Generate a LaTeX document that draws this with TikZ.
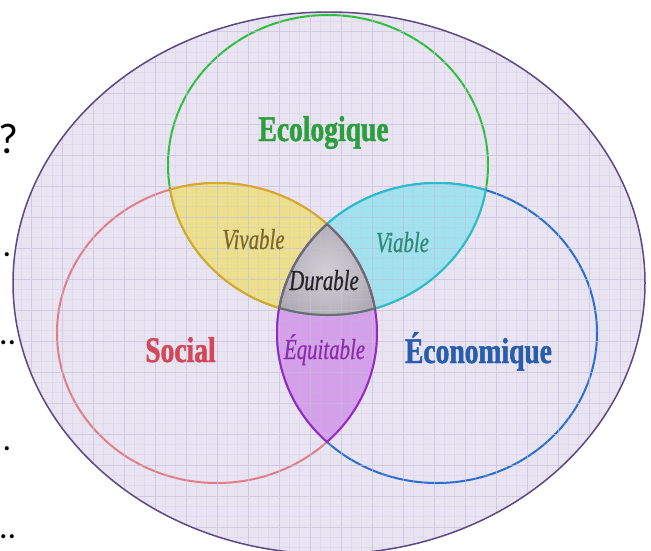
\documentclass[tikz,border=0pt]{standalone}
\usepackage{fontspec}
\newfontfamily\condfont{Liberation Serif}[FakeStretch=0.765, BoldFeatures={FakeBold=1.3}]
\newfontfamily\conditfont{Liberation Serif}[FakeStretch=0.72, ItalicFeatures={FakeBold=0.6}]
\newfontfamily\slidefont{Carlito}
\definecolor{bglav}{RGB}{233,228,241}
\definecolor{gridc}{RGB}{200,190,222}
\definecolor{outc}{RGB}{92,72,130}
\definecolor{greenc}{RGB}{45,190,60}
\definecolor{redc}{RGB}{226,125,135}
\definecolor{bluec}{RGB}{40,110,205}
\definecolor{yelf}{RGB}{236,224,140}
\definecolor{yelb}{RGB}{216,168,40}
\definecolor{cyaf}{RGB}{160,226,238}
\definecolor{cyab}{RGB}{40,188,205}
\definecolor{purf}{RGB}{212,160,234}
\definecolor{purb}{RGB}{150,40,200}
\definecolor{gryin}{RGB}{210,208,213}
\definecolor{gryout}{RGB}{168,166,173}
\definecolor{gryb}{RGB}{110,108,115}
\definecolor{ecotxt}{RGB}{44,158,62}
\definecolor{soctxt}{RGB}{210,72,88}
\definecolor{ecntxt}{RGB}{40,92,172}
\definecolor{vivtxt}{RGB}{120,104,45}
\definecolor{viatxt}{RGB}{45,138,118}
\definecolor{durtxt}{RGB}{35,35,40}
\definecolor{equtxt}{RGB}{138,46,168}
\def\OUTP{(329,283) ellipse [x radius=316pt, y radius=271pt]}
\def\GCP{(328,165) ellipse [x radius=160pt, y radius=150pt]}
\def\RCP{(217,333) ellipse [x radius=160pt, y radius=150pt]}
\def\BCP{(437,333) ellipse [x radius=160pt, y radius=150pt]}
\begin{document}
\begin{tikzpicture}[x=1pt,y=-1pt,
  circ/.style={line width=2pt},
  lens/.style={line width=2pt},
  bigtxt/.style={inner sep=0pt, anchor=base, font=\condfont\bfseries\fontsize{36}{40}\selectfont},
  ittxt/.style={inner sep=0pt, anchor=base, font=\conditfont\itshape\fontsize{29}{32}\selectfont},
  slidetxt/.style={inner sep=0pt, text=black}]
\useasboundingbox (0,0) rectangle (651,550);
\begin{scope}
\clip (0,0) rectangle (651,550);
\fill[bglav] \OUTP;
% circle outlines
\draw[greenc, circ] \GCP;
\draw[redc, circ] \RCP;
\draw[bluec, circ] \BCP;
% lens fills
\begin{scope}\clip \GCP; \fill[yelf] \RCP; \end{scope}
\begin{scope}\clip \GCP; \fill[cyaf] \BCP; \end{scope}
\begin{scope}\clip \RCP; \fill[purf] \BCP; \end{scope}
\begin{scope}\clip \GCP; \clip \RCP; \clip \BCP;
  \shade[inner color=gryin, outer color=gryout] (327,272) circle (62pt);
\end{scope}
% texture grid
\begin{scope}
\clip \OUTP;
\draw[gridc, line width=0.5pt, opacity=0.55] (-2,-2) grid[step=31pt] (660,560);
\draw[gridc, line width=0.3pt, opacity=0.25] (-2,-2) grid[step=10.33pt] (660,560);
\end{scope}
% lens outlines
\begin{scope}\clip \GCP; \draw[yelb, lens] \RCP; \end{scope}
\begin{scope}\clip \RCP; \draw[yelb, lens] \GCP; \end{scope}
\begin{scope}\clip \GCP; \draw[cyab, lens] \BCP; \end{scope}
\begin{scope}\clip \BCP; \draw[cyab, lens] \GCP; \end{scope}
\begin{scope}\clip \RCP; \draw[purb, lens] \BCP; \end{scope}
\begin{scope}\clip \BCP; \draw[purb, lens] \RCP; \end{scope}
% durable outline
\begin{scope}\clip \GCP; \clip \RCP; \draw[gryb, lens] \BCP; \end{scope}
\begin{scope}\clip \GCP; \clip \BCP; \draw[gryb, lens] \RCP; \end{scope}
\begin{scope}\clip \RCP; \clip \BCP; \draw[gryb, lens] \GCP; \end{scope}
% outer outline
\draw[outc, line width=1.5pt] \OUTP;
\end{scope}
% labels
\node[bigtxt, text=ecotxt] (eco) at (323.5,141) {Ecologique};
\node[bigtxt, text=soctxt] (soc) at (180.5,362) {Social};
\node[bigtxt, text=ecntxt] (ecn) at (478.5,363) {Économique};
\node[ittxt, text=vivtxt] (viv) at (253.5,249) {Vivable};
\node[ittxt, text=viatxt] (via) at (402.5,252) {Viable};
\node[ittxt, text=durtxt] (dur) at (324,290) {Durable};
\node[ittxt, text=equtxt] (equ) at (324.5,359) {Équitable};
% slide text on the left
\node[slidetxt, anchor=base west, font=\slidefont\fontsize{43}{48}\selectfont] (q) at (-1.5,153) {?};
\node[slidetxt, anchor=base, font=\slidefont\fontsize{34}{40}\selectfont] (d1) at (7,256) {.};
\node[slidetxt, anchor=base east, font=\slidefont\fontsize{34}{40}\selectfont] (d2) at (16.5,344) {..};
\node[slidetxt, anchor=base, font=\slidefont\fontsize{34}{40}\selectfont] (d3) at (7,450) {.};
\node[slidetxt, anchor=base east, font=\slidefont\fontsize{34}{40}\selectfont] (d4) at (16.5,538) {..};
\end{tikzpicture}
\end{document}
